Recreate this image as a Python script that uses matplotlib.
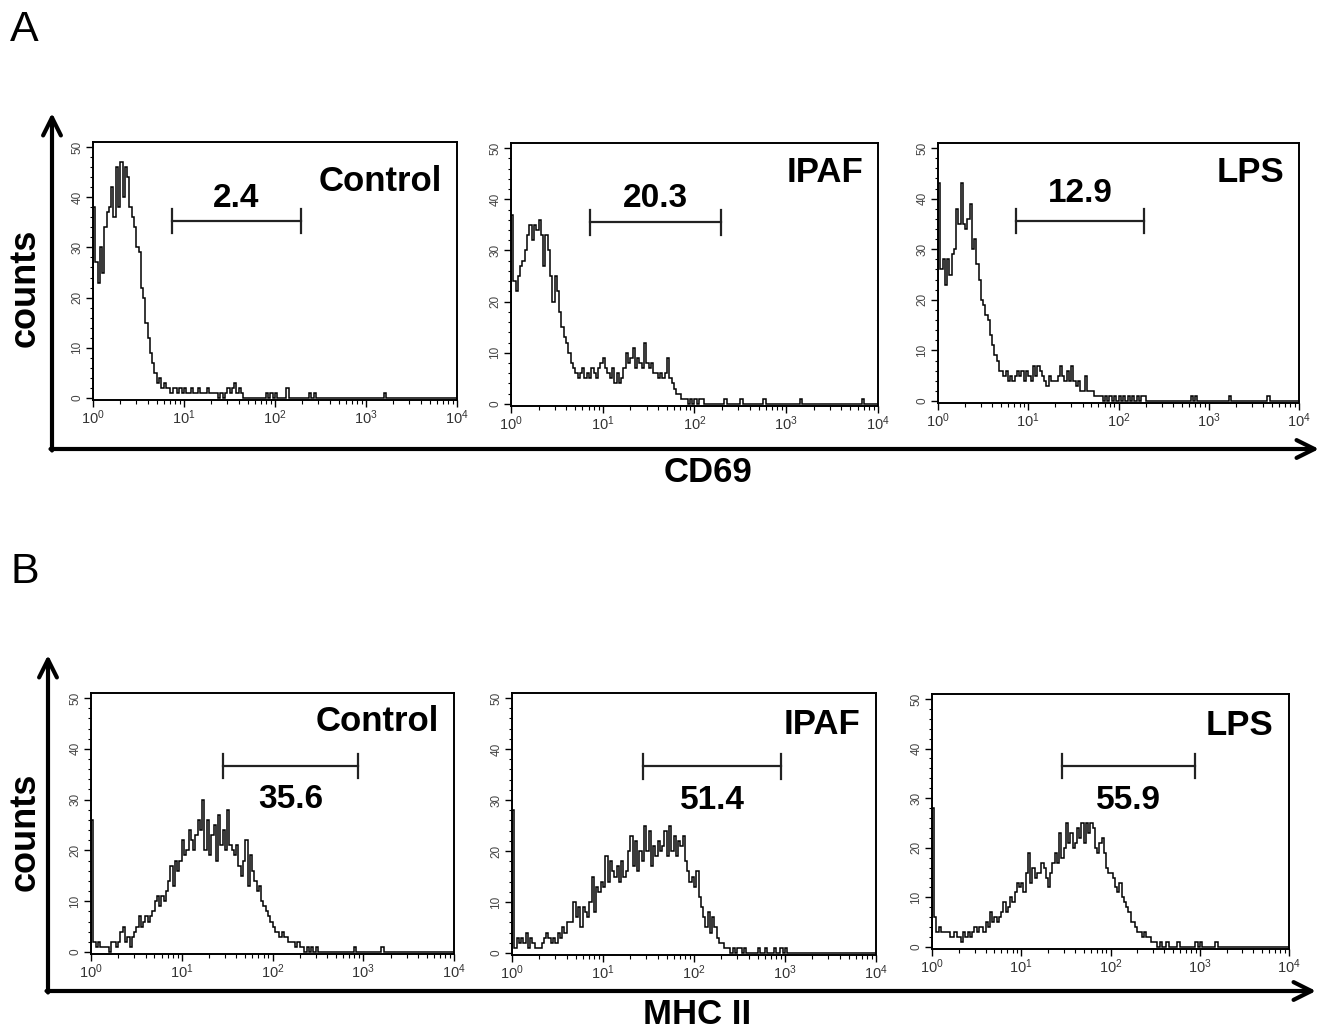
import numpy as np
import matplotlib
matplotlib.use("Agg")
import matplotlib.pyplot as plt
from matplotlib.ticker import LogLocator, MultipleLocator, NullFormatter

plt.rcParams["font.family"] = ["Liberation Sans", "DejaVu Sans"]
plt.rcParams["mathtext.fontset"] = "custom"
plt.rcParams["mathtext.rm"] = "Liberation Sans"

# 160 channels over 4 log decades (40 per decade)
edges = np.logspace(0, 4, 161)

cd69_control = [
    38, 27, 23, 30, 25, 34, 37, 38, 42, 36, 46, 38, 47, 40, 46, 44, 38, 36, 34, 30,
    29, 22, 20, 15, 12, 9, 7, 5, 3, 4, 2, 3, 2, 2, 1, 2, 2, 1, 2, 1,
    2, 1, 1, 2, 1, 1, 2, 1, 1, 1, 2, 1, 1, 1, 1, 0, 1, 0, 1, 2,
    1, 2, 3, 1, 2, 1, 0, 0, 0, 0, 0, 0, 0, 0, 0, 0, 1, 0, 1, 0,
    1, 0, 0, 0, 0, 2, 0, 0, 0, 0, 0, 0, 0, 0, 0, 1, 0, 1, 0, 0,
    0, 0, 0, 0, 0, 0, 0, 0, 0, 0, 0, 0, 0, 0, 0, 0, 0, 0, 0, 0,
    0, 0, 0, 0, 0, 0, 0, 0, 1, 0, 0, 0, 0, 0, 0, 0, 0, 0, 0, 0,
    0, 0, 0, 0, 0, 0, 0, 0, 0, 0, 0, 0, 0, 0, 0, 0, 0, 0, 0, 0,
]
cd69_ipaf = [
    37, 24, 22, 25, 27, 28, 30, 33, 35, 32, 35, 34, 36, 33, 27, 33, 30, 25, 20, 25,
    22, 18, 15, 13, 12, 10, 8, 7, 6, 5, 6, 7, 5, 6, 5, 7, 6, 5, 7, 8,
    9, 7, 6, 5, 7, 4, 6, 4, 5, 7, 10, 8, 9, 11, 7, 9, 8, 7, 12, 8,
    7, 8, 6, 6, 5, 6, 5, 6, 9, 5, 4, 3, 2, 2, 1, 1, 1, 0, 1, 0,
    1, 0, 1, 1, 0, 0, 0, 0, 0, 0, 0, 0, 0, 1, 0, 0, 0, 0, 0, 0,
    1, 0, 0, 0, 0, 0, 0, 0, 0, 0, 1, 0, 0, 0, 0, 0, 0, 0, 0, 0,
    0, 0, 0, 0, 0, 0, 1, 0, 0, 0, 0, 0, 0, 0, 0, 0, 0, 0, 0, 0,
    0, 0, 0, 0, 0, 0, 0, 0, 0, 0, 0, 0, 0, 1, 0, 0, 0, 0, 0, 0,
]
cd69_lps = [
    43, 26, 28, 23, 28, 25, 29, 30, 38, 35, 43, 35, 34, 36, 39, 30, 32, 27, 24, 20,
    19, 17, 16, 13, 11, 9, 8, 6, 6, 5, 6, 4, 5, 4, 5, 6, 5, 6, 4, 6,
    5, 4, 7, 5, 7, 6, 5, 4, 3, 5, 4, 4, 4, 5, 7, 5, 4, 6, 4, 7,
    4, 3, 4, 2, 2, 5, 2, 2, 2, 1, 1, 1, 1, 0, 1, 0, 1, 0, 1, 0,
    1, 0, 1, 0, 1, 0, 1, 0, 1, 0, 1, 1, 0, 0, 0, 0, 0, 0, 0, 0,
    0, 0, 0, 0, 0, 0, 0, 0, 0, 0, 0, 0, 1, 0, 1, 0, 0, 0, 0, 0,
    0, 0, 0, 0, 0, 0, 0, 0, 0, 1, 0, 0, 0, 0, 0, 0, 0, 0, 0, 0,
    0, 0, 0, 0, 0, 0, 1, 0, 0, 0, 0, 0, 0, 0, 0, 0, 0, 0, 0, 0,
]
mhc_control = [
    26, 2, 1, 2, 1, 1, 1, 1, 0, 2, 2, 1, 2, 4, 5, 2, 3, 1, 3, 4,
    5, 7, 5, 6, 7, 6, 7, 8, 10, 11, 9, 11, 10, 12, 14, 17, 13, 18, 16, 18,
    22, 19, 20, 24, 22, 20, 23, 26, 24, 30, 20, 26, 19, 23, 25, 18, 27, 21, 24, 20,
    28, 21, 20, 19, 21, 17, 15, 18, 22, 13, 19, 16, 14, 12, 13, 10, 9, 8, 7, 6,
    5, 4, 4, 3, 4, 3, 3, 2, 2, 2, 1, 2, 1, 1, 0, 1, 0, 1, 0, 1,
    0, 0, 0, 0, 0, 0, 0, 0, 0, 0, 0, 0, 0, 0, 0, 0, 1, 0, 0, 0,
    0, 0, 0, 0, 0, 0, 0, 0, 1, 0, 0, 0, 0, 0, 0, 0, 0, 0, 0, 0,
    0, 0, 0, 0, 0, 0, 0, 0, 0, 0, 0, 0, 0, 0, 0, 0, 0, 0, 0, 0,
]
mhc_ipaf = [
    28, 1, 3, 2, 3, 2, 4, 1, 3, 2, 1, 1, 1, 2, 3, 4, 3, 2, 3, 2,
    4, 3, 5, 4, 6, 6, 6, 10, 7, 9, 5, 9, 8, 7, 10, 15, 8, 13, 12, 14,
    13, 19, 14, 18, 16, 15, 17, 14, 18, 15, 16, 20, 23, 17, 22, 16, 20, 18, 25, 20,
    24, 17, 21, 19, 22, 20, 21, 24, 19, 25, 20, 23, 19, 22, 21, 23, 18, 16, 14, 15,
    13, 16, 11, 9, 7, 5, 8, 4, 7, 5, 3, 2, 2, 1, 1, 1, 0, 1, 0, 1,
    1, 0, 1, 0, 0, 0, 0, 0, 1, 0, 0, 1, 0, 0, 0, 1, 0, 0, 1, 0,
    1, 0, 0, 0, 0, 0, 0, 0, 0, 0, 0, 0, 0, 0, 0, 0, 0, 0, 0, 0,
    0, 0, 0, 0, 0, 0, 0, 0, 0, 0, 0, 0, 0, 0, 0, 0, 0, 0, 0, 0,
]
mhc_lps = [
    28, 6, 3, 4, 3, 3, 3, 3, 2, 2, 3, 2, 2, 1, 3, 2, 3, 2, 3, 4,
    3, 4, 4, 3, 5, 4, 7, 5, 6, 5, 6, 7, 9, 7, 8, 10, 9, 11, 13, 12,
    13, 11, 15, 19, 13, 16, 14, 15, 15, 17, 16, 14, 12, 15, 17, 19, 17, 23, 18, 20,
    25, 21, 23, 20, 21, 24, 22, 25, 21, 25, 23, 25, 24, 20, 19, 21, 22, 19, 16, 15,
    15, 14, 12, 11, 13, 10, 9, 8, 7, 5, 5, 4, 3, 3, 2, 3, 2, 2, 1, 1,
    1, 0, 1, 0, 0, 1, 0, 0, 0, 0, 1, 0, 0, 0, 0, 0, 0, 0, 1, 0,
    1, 0, 0, 0, 0, 0, 0, 1, 0, 0, 0, 0, 0, 0, 0, 0, 0, 0, 0, 0,
    0, 0, 0, 0, 0, 0, 0, 0, 0, 0, 0, 0, 0, 0, 0, 0, 0, 0, 0, 0,
]

conditions = ["Control", "IPAF", "LPS"]
row_series = [[cd69_control, cd69_ipaf, cd69_lps], [mhc_control, mhc_ipaf, mhc_lps]]
row_markers = ["CD69", "MHC II"]
row_letters = ["A", "B"]

# gate: low, high, bar y, percentage, label y
gate_low = [[7.4, 7.3, 7.3], [28.5, 27.5, 28.6]]
gate_high = [[193, 195, 191], [873, 903, 885]]
gate_y = [[35.3, 35.5, 35.6], [36.6, 36.6, 36.5]]
gate_pct = [["2.4", "20.3", "12.9"], ["35.6", "51.4", "55.9"]]
pct_y = [[39.7, 40.1, 41.0], [30.1, 30.0, 29.6]]

W, H = 1321, 1033
fig = plt.figure(figsize=(W / 100, H / 100), dpi=100)

# overlay in pixel coords for arrows and outer labels
bg = fig.add_axes([0, 0, 1, 1])
bg.set_xlim(0, W)
bg.set_ylim(H, 0)
bg.axis("off")

# panel boxes in pixels: left, right, top, bottom
boxes = [
    [(93, 457, 142, 400), (511, 878, 143, 406), (938, 1299, 143, 403)],
    [(91, 454, 693, 954), (512, 876, 693, 955), (932, 1289, 694, 949)],
]
name_pos = [[(0.96, 0.845), (0.96, 0.886), (0.96, 0.885)],
            [(0.96, 0.89), (0.956, 0.878), (0.955, 0.878)]]

arrow_kw = dict(arrowstyle="->", lw=3, color="black", mutation_scale=32,
                shrinkA=0, shrinkB=0)
arrow_rows = [
    dict(vx=52, vy0=449, vy1=113, hy=449, hx1=1319),
    dict(vx=48, vy0=991, vy1=655, hy=991, hx1=1316),
]
letter_y = [30, 572]
counts_y = [288, 832]
marker_xy = [(708, 472), (697, 1014)]

for r in range(2):
    a = arrow_rows[r]
    bg.annotate("", xy=(a["vx"], a["vy1"]), xytext=(a["vx"], a["vy0"] + 1.5),
                arrowprops=arrow_kw)
    bg.annotate("", xy=(a["hx1"], a["hy"]), xytext=(a["vx"] - 1.5, a["hy"]),
                arrowprops=arrow_kw)
    bg.text(10, letter_y[r], row_letters[r], fontsize=31, ha="left", va="center")
    bg.text(25, counts_y[r], "counts", fontsize=26, fontweight="bold",
            rotation=90, ha="center", va="center")
    bg.text(marker_xy[r][0], marker_xy[r][1], row_markers[r], fontsize=25,
            fontweight="bold", ha="center", va="center")

    for c in range(3):
        l, rt, t, b = boxes[r][c]
        ax = fig.add_axes([l / W, 1 - b / H, (rt - l) / W, (b - t) / H])
        ax.stairs(row_series[r][c], edges, color="black", lw=1.1)
        ax.set_xscale("log")
        ax.set_xlim(1, 1e4)
        ax.set_ylim(-0.4, 51)
        ax.set_xticks([1, 10, 100, 1000, 10000])
        ax.xaxis.set_minor_locator(LogLocator(base=10, subs=np.arange(2, 10)))
        ax.xaxis.set_minor_formatter(NullFormatter())
        ax.yaxis.set_major_locator(MultipleLocator(10))
        ax.yaxis.set_minor_locator(MultipleLocator(2))
        ax.tick_params(axis="x", which="major", length=5, width=1, labelsize=10.5,
                       pad=1, colors="black", labelcolor="#333333")
        ax.tick_params(axis="x", which="minor", length=3, width=0.8)
        ax.tick_params(axis="y", which="major", length=5, width=1, labelsize=8.5,
                       pad=2, labelcolor="#444444")
        ax.tick_params(axis="y", which="minor", length=2.5, width=0.8)
        for lab in ax.get_yticklabels():
            lab.set_rotation(90)
            lab.set_va("center")
        for s in ax.spines.values():
            s.set_linewidth(1.4)

        lo, hi, gy = gate_low[r][c], gate_high[r][c], gate_y[r][c]
        ax.plot([lo, hi], [gy, gy], color="#222222", lw=1.6)
        ax.plot([lo, lo], [gy - 2.4, gy + 2.4], color="#222222", lw=1.6)
        ax.plot([hi, hi], [gy - 2.4, gy + 2.4], color="#222222", lw=1.6)
        ax.text(np.sqrt(lo * hi), pct_y[r][c], gate_pct[r][c], fontsize=24,
                fontweight="bold", ha="center", va="center")
        nx, ny = name_pos[r][c]
        ax.text(nx, ny, conditions[c], transform=ax.transAxes, fontsize=25,
                fontweight="bold", ha="right", va="center")

fig.savefig("out.png", dpi=100, facecolor="white")
